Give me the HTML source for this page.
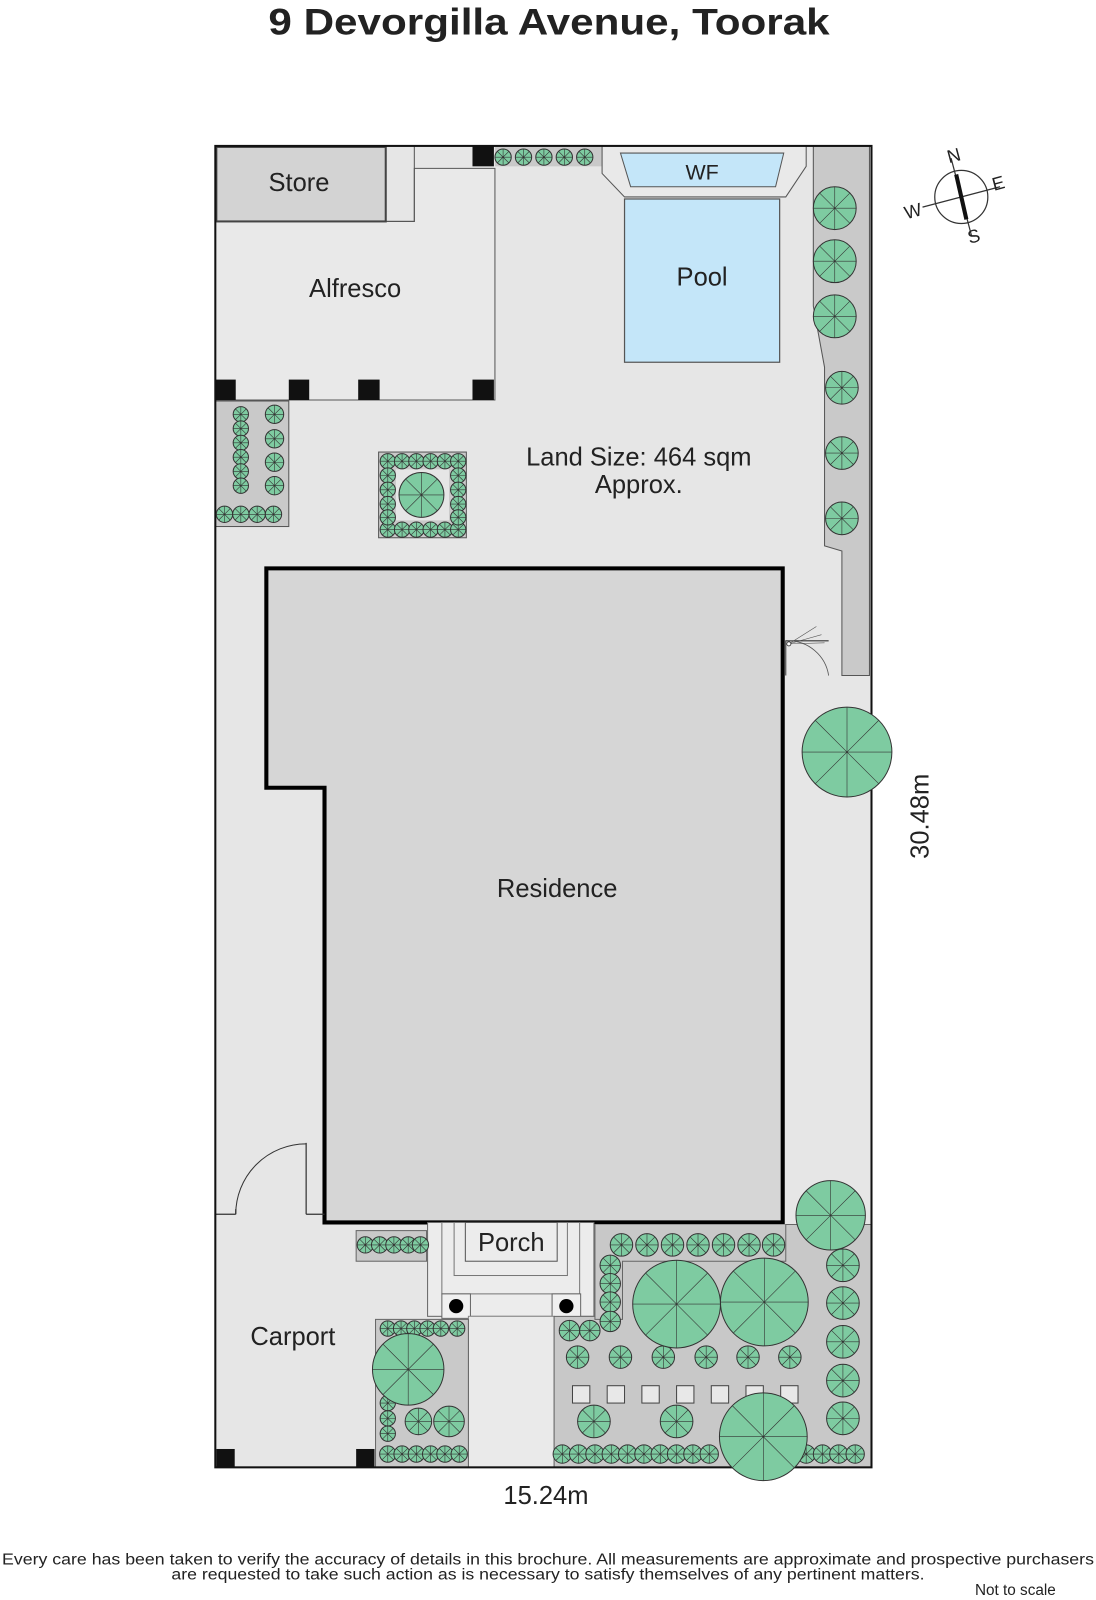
<!DOCTYPE html>
<html><head><meta charset="utf-8"><style>
html,body{margin:0;padding:0;background:#fff;width:1096px;height:1600px;overflow:hidden}
svg{display:block}
text{font-family:"Liberation Sans",sans-serif;fill:#222}
</style></head><body>
<svg width="1096" height="1600" viewBox="0 0 1074 1568" preserveAspectRatio="none" xmlns="http://www.w3.org/2000/svg">
<defs>
<g id="t"><circle r="10" fill="#7ecba1" stroke="#333" stroke-width="1" vector-effect="non-scaling-stroke"/><path d="M0 0L10 0M0 0L-10 0M0 0L0 10M0 0L0-10M0 0L7 7M0 0L-7-7M0 0L7-7M0 0L-7 7" stroke="#333" stroke-width="0.6" vector-effect="non-scaling-stroke" fill="none"/></g>
</defs>
<text x="538" y="34" text-anchor="middle" font-size="36" font-weight="bold" fill="#111" textLength="550" lengthAdjust="spacingAndGlyphs">9 Devorgilla Avenue, Toorak</text>

<rect x="211" y="143" width="643" height="1295" fill="#e6e6e6"/>
<path d="M211 217H406V165H485V392H211Z" fill="#e9e9e9" stroke="#555" stroke-width="1"/>
<path d="M378 217H406V143" fill="none" stroke="#555" stroke-width="1"/>
<rect x="212" y="144" width="166" height="73" fill="#d3d3d3" stroke="#444" stroke-width="2"/>
<rect x="211" y="372" width="20" height="20" fill="#111"/>
<rect x="283" y="372" width="20" height="20" fill="#111"/>
<rect x="351" y="372" width="21" height="20" fill="#111"/>
<rect x="463" y="372" width="21" height="20" fill="#111"/>
<rect x="463" y="143" width="21" height="20" fill="#111"/>
<rect x="485" y="144" width="105" height="19" fill="#c9c9c9"/>
<path d="M590 143H790V163L770 193H612L590 170Z" fill="#e9e9e9" stroke="#555" stroke-width="1"/>
<path d="M608 150H768L760 183H618Z" fill="#c4e6f9" stroke="#555" stroke-width="1"/>
<rect x="612" y="195" width="152" height="160" fill="#c4e6f9" stroke="#555" stroke-width="1.2"/>
<path d="M797 143H852V662H825V540L808 535V360L797 300Z" fill="#c9c9c9" stroke="#555" stroke-width="1"/>
<rect x="211" y="393" width="72" height="123" fill="#c9c9c9" stroke="#555" stroke-width="1"/>
<rect x="371" y="443" width="86" height="84" fill="#c9c9c9" stroke="#555" stroke-width="1"/>
<rect x="388" y="460" width="52" height="50" fill="#e6e6e6"/>
<path d="M261 557H767V1198H318V772H261Z" fill="#d6d6d6" stroke="#000" stroke-width="4"/>
<path d="M770 662V628H812" fill="none" stroke="#333" stroke-width="1"/>
<path d="M812 662A40 40 0 0 0 772 628" fill="none" stroke="#555" stroke-width="0.8"/>
<path d="M773 631L800 614M773 631L805 622M773 631L808 630" stroke="#555" stroke-width="0.6"/>
<circle cx="773" cy="631" r="2" fill="#fff" stroke="#333" stroke-width=".8"/>
<path d="M211 1190H231M300 1190H318M300 1120V1190M231 1190V1185" stroke="#333" stroke-width="1.2" fill="none"/>
<path d="M231 1190A69 69 0 0 1 300 1121" fill="none" stroke="#333" stroke-width="1"/>
<rect x="212" y="1420" width="18" height="18" fill="#111"/>
<rect x="349" y="1420" width="18" height="18" fill="#111"/>
<rect x="419" y="1198" width="163" height="92" fill="#ececec" stroke="#666" stroke-width="1"/>
<rect x="433" y="1198" width="135" height="70" fill="none" stroke="#777" stroke-width="1"/>
<rect x="445" y="1198" width="111" height="52" fill="none" stroke="#777" stroke-width="1"/>
<rect x="456" y="1198" width="90" height="38" fill="#ececec" stroke="#555" stroke-width="1"/>
<rect x="433" y="1268" width="28" height="24" fill="#f0f0f0" stroke="#666" stroke-width="1"/>
<rect x="541" y="1268" width="28" height="24" fill="#f0f0f0" stroke="#666" stroke-width="1"/>
<circle cx="447" cy="1280" r="7" fill="#000"/>
<circle cx="555" cy="1280" r="7" fill="#000"/>
<rect x="459" y="1290" width="84" height="148" fill="#eaeaea" stroke="#888" stroke-width="1"/>
<rect x="349" y="1206" width="69" height="30" fill="#c9c9c9" stroke="#666" stroke-width="1"/>
<rect x="368" y="1293" width="91" height="145" fill="#c9c9c9" stroke="#666" stroke-width="1"/>
<path d="M583 1200H854V1438H543V1290H583Z" fill="#c8c8c8" stroke="#666" stroke-width="1"/>
<path d="M583 1200V1293H610V1236H770V1200" fill="#c8c8c8" stroke="#666" stroke-width="1"/>
<g fill="#e8e8e8" stroke="#444" stroke-width="1">
<rect x="561" y="1358" width="17" height="17"/><rect x="595" y="1358" width="17" height="17"/><rect x="629" y="1358" width="17" height="17"/><rect x="663" y="1358" width="17" height="17"/><rect x="697" y="1358" width="17" height="17"/><rect x="731" y="1358" width="17" height="17"/><rect x="765" y="1358" width="17" height="17"/>
</g>
<rect x="211" y="143" width="643" height="1295" fill="none" stroke="#111" stroke-width="2"/>

<g>
<use href="#t" transform="translate(493 154) scale(.8)"/><use href="#t" transform="translate(513 154) scale(.8)"/><use href="#t" transform="translate(533 154) scale(.8)"/><use href="#t" transform="translate(553 154) scale(.8)"/><use href="#t" transform="translate(573 154) scale(.8)"/>
<use href="#t" transform="translate(818 204) scale(2.1)"/><use href="#t" transform="translate(818 256) scale(2.1)"/><use href="#t" transform="translate(818 310) scale(2.1)"/>
<use href="#t" transform="translate(825 380) scale(1.6)"/><use href="#t" transform="translate(825 444) scale(1.6)"/><use href="#t" transform="translate(825 508) scale(1.6)"/>
<use href="#t" transform="translate(236 406) scale(.75)"/><use href="#t" transform="translate(236 420) scale(.75)"/><use href="#t" transform="translate(236 434) scale(.75)"/><use href="#t" transform="translate(236 448) scale(.75)"/><use href="#t" transform="translate(236 462) scale(.75)"/><use href="#t" transform="translate(236 476) scale(.75)"/>
<use href="#t" transform="translate(269 406) scale(.9)"/><use href="#t" transform="translate(269 430) scale(.9)"/><use href="#t" transform="translate(269 453) scale(.9)"/><use href="#t" transform="translate(269 476) scale(.9)"/>
<use href="#t" transform="translate(220 504) scale(.8)"/><use href="#t" transform="translate(236 504) scale(.8)"/><use href="#t" transform="translate(252 504) scale(.8)"/><use href="#t" transform="translate(268 504) scale(.8)"/>
<use href="#t" transform="translate(380 452) scale(.75)"/><use href="#t" transform="translate(394 452) scale(.75)"/><use href="#t" transform="translate(408 452) scale(.75)"/><use href="#t" transform="translate(422 452) scale(.75)"/><use href="#t" transform="translate(436 452) scale(.75)"/><use href="#t" transform="translate(449 452) scale(.75)"/>
<use href="#t" transform="translate(380 519) scale(.75)"/><use href="#t" transform="translate(394 519) scale(.75)"/><use href="#t" transform="translate(408 519) scale(.75)"/><use href="#t" transform="translate(422 519) scale(.75)"/><use href="#t" transform="translate(436 519) scale(.75)"/><use href="#t" transform="translate(449 519) scale(.75)"/>
<use href="#t" transform="translate(380 466) scale(.75)"/><use href="#t" transform="translate(380 480) scale(.75)"/><use href="#t" transform="translate(380 494) scale(.75)"/><use href="#t" transform="translate(380 507) scale(.75)"/>
<use href="#t" transform="translate(449 466) scale(.75)"/><use href="#t" transform="translate(449 480) scale(.75)"/><use href="#t" transform="translate(449 494) scale(.75)"/><use href="#t" transform="translate(449 507) scale(.75)"/>
<use href="#t" transform="translate(413 485) scale(2.2)"/>
<use href="#t" transform="translate(830 737) scale(4.4)"/>
<use href="#t" transform="translate(358 1220) scale(.8)"/><use href="#t" transform="translate(372 1220) scale(.8)"/><use href="#t" transform="translate(386 1220) scale(.8)"/><use href="#t" transform="translate(400 1220) scale(.8)"/><use href="#t" transform="translate(412 1220) scale(.8)"/>
<use href="#t" transform="translate(380 1302) scale(.75)"/><use href="#t" transform="translate(393 1302) scale(.75)"/><use href="#t" transform="translate(406 1302) scale(.75)"/><use href="#t" transform="translate(419 1302) scale(.75)"/><use href="#t" transform="translate(432 1302) scale(.75)"/><use href="#t" transform="translate(448 1302) scale(.75)"/>
<use href="#t" transform="translate(380 1375) scale(.75)"/><use href="#t" transform="translate(380 1390) scale(.75)"/><use href="#t" transform="translate(380 1405) scale(.75)"/>
<use href="#t" transform="translate(380 1425) scale(.8)"/><use href="#t" transform="translate(394 1425) scale(.8)"/><use href="#t" transform="translate(408 1425) scale(.8)"/><use href="#t" transform="translate(422 1425) scale(.8)"/><use href="#t" transform="translate(436 1425) scale(.8)"/><use href="#t" transform="translate(450 1425) scale(.8)"/>
<use href="#t" transform="translate(410 1393) scale(1.3)"/><use href="#t" transform="translate(440 1393) scale(1.5)"/>
<use href="#t" transform="translate(400 1342) scale(3.5)"/>
<use href="#t" transform="translate(609 1220) scale(1.1)"/><use href="#t" transform="translate(634 1220) scale(1.1)"/><use href="#t" transform="translate(659 1220) scale(1.1)"/><use href="#t" transform="translate(684 1220) scale(1.1)"/><use href="#t" transform="translate(709 1220) scale(1.1)"/><use href="#t" transform="translate(734 1220) scale(1.1)"/><use href="#t" transform="translate(758 1220) scale(1.1)"/>
<use href="#t" transform="translate(598 1240) scale(1)"/><use href="#t" transform="translate(598 1258) scale(1)"/><use href="#t" transform="translate(598 1276) scale(1)"/><use href="#t" transform="translate(598 1295) scale(1)"/>
<use href="#t" transform="translate(558 1304) scale(1)"/><use href="#t" transform="translate(578 1304) scale(1)"/>
<use href="#t" transform="translate(566 1330) scale(1.1)"/><use href="#t" transform="translate(608 1330) scale(1.1)"/><use href="#t" transform="translate(650 1330) scale(1.1)"/><use href="#t" transform="translate(692 1330) scale(1.1)"/><use href="#t" transform="translate(733 1330) scale(1.1)"/><use href="#t" transform="translate(774 1330) scale(1.1)"/>
<use href="#t" transform="translate(582 1393) scale(1.6)"/><use href="#t" transform="translate(663 1393) scale(1.6)"/>
<use href="#t" transform="translate(551 1425) scale(.9)"/><use href="#t" transform="translate(567 1425) scale(.9)"/><use href="#t" transform="translate(583 1425) scale(.9)"/><use href="#t" transform="translate(599 1425) scale(.9)"/><use href="#t" transform="translate(615 1425) scale(.9)"/><use href="#t" transform="translate(631 1425) scale(.9)"/><use href="#t" transform="translate(647 1425) scale(.9)"/><use href="#t" transform="translate(663 1425) scale(.9)"/><use href="#t" transform="translate(679 1425) scale(.9)"/><use href="#t" transform="translate(695 1425) scale(.9)"/><use href="#t" transform="translate(790 1425) scale(.9)"/><use href="#t" transform="translate(806 1425) scale(.9)"/><use href="#t" transform="translate(822 1425) scale(.9)"/><use href="#t" transform="translate(838 1425) scale(.9)"/>
<use href="#t" transform="translate(826 1240) scale(1.6)"/><use href="#t" transform="translate(826 1277) scale(1.6)"/><use href="#t" transform="translate(826 1315) scale(1.6)"/><use href="#t" transform="translate(826 1353) scale(1.6)"/><use href="#t" transform="translate(826 1390) scale(1.6)"/>
<use href="#t" transform="translate(663 1278) scale(4.3)"/><use href="#t" transform="translate(749 1276) scale(4.3)"/><use href="#t" transform="translate(748 1408) scale(4.3)"/><use href="#t" transform="translate(814 1191) scale(3.4)"/>
</g>

<g font-size="25">
<text x="293" y="187" text-anchor="middle">Store</text>
<text x="348" y="291" text-anchor="middle">Alfresco</text>
<text x="688" y="176" text-anchor="middle" font-size="21">WF</text>
<text x="688" y="280" text-anchor="middle">Pool</text>
<text x="626" y="456" text-anchor="middle">Land Size: 464 sqm</text>
<text x="626" y="483" text-anchor="middle">Approx.</text>
<text x="546" y="879" text-anchor="middle">Residence</text>
<text x="501" y="1226" text-anchor="middle">Porch</text>
<text x="287" y="1318" text-anchor="middle">Carport</text>
<text x="535" y="1474" text-anchor="middle">15.24m</text>
<text transform="translate(910 800) rotate(-90)" text-anchor="middle">30.48m</text>
</g>
<g transform="translate(942 193)">
<circle r="26" fill="none" stroke="#333" stroke-width="1.2"/>
<path d="M-10-38L10 38M-38 10L38-10" stroke="#333" stroke-width="1.2"/>
<path d="M-5-22L5 22" stroke="#111" stroke-width="4"/>
<text x="-12" y="-33" font-size="18" transform="rotate(-15 -12 -33)">N</text>
<text x="32" y="-6" font-size="18" transform="rotate(-15 32 -6)">E</text>
<text x="8" y="46" font-size="18" transform="rotate(-15 8 46)">S</text>
<text x="-54" y="22" font-size="18" transform="rotate(-15 -54 22)">W</text>
</g>
<text x="2" y="1533" font-size="15" textLength="1070" lengthAdjust="spacingAndGlyphs">Every care has been taken to verify the accuracy of details in this brochure.  All measurements are approximate and prospective purchasers</text>
<text x="168" y="1548" font-size="15" textLength="738" lengthAdjust="spacingAndGlyphs">are requested to take such action as is necessary to satisfy themselves of any pertinent matters.</text>
<text x="995" y="1563" text-anchor="middle" font-size="15">Not to scale</text>
</svg>
</body></html>
